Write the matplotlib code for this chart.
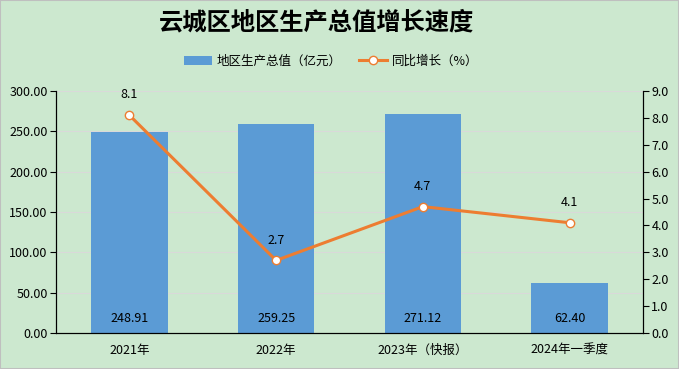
import matplotlib.pyplot as plt
import numpy as np

plt.rcParams['font.family'] = ['Noto Sans CJK SC', 'DejaVu Sans']

categories = ['2021年', '2022年', '2023年（快报）', '2024年一季度']
gdp = [248.91, 259.25, 271.12, 62.40]
growth = [8.1, 2.7, 4.7, 4.1]

bg = '#CCE8CF'
bar_color = '#5B9BD5'
line_color = '#ED7D31'

fig = plt.figure(figsize=(6.79, 3.69), dpi=100, facecolor=bg)
ax1 = fig.add_axes([56 / 679, 1 - 333 / 369, 587 / 679, 242 / 369])
ax1.set_facecolor(bg)
x = np.arange(len(categories))

ax1.bar(x, gdp, width=0.52, color=bar_color, zorder=2, label='地区生产总值（亿元）')
ax1.set_ylim(0, 300)
ax1.set_xlim(-0.5, len(categories) - 0.5)
ax1.set_yticks(np.arange(0, 301, 50))
ax1.set_yticklabels(['%.2f' % v for v in np.arange(0, 301, 50)], fontsize=9)
ax1.set_xticks(x)
ax1.set_xticklabels(categories, fontsize=9)
ax1.tick_params(axis='x', length=0, pad=8)
ax1.tick_params(axis='y', length=4, pad=2)
ax1.grid(axis='y', color='#D9D9D9', linewidth=0.8, zorder=0)
ax1.spines['top'].set_visible(False)
for i, v in enumerate(gdp):
    ax1.text(i, 10, '%.2f' % v, ha='center', va='bottom', fontsize=9, zorder=3)

ax2 = ax1.twinx()
ax2.plot(x, growth, color=line_color, linewidth=2.2, marker='o', markersize=6,
         markerfacecolor='white', markeredgecolor=line_color, markeredgewidth=1,
         zorder=4, label='同比增长（%）')
ax2.set_ylim(0, 9)
ax2.set_yticks(np.arange(0, 9.1, 1))
ax2.set_yticklabels(['%.1f' % v for v in np.arange(0, 9.1, 1)], fontsize=9)
ax2.tick_params(axis='y', length=4, pad=2)
ax2.spines['top'].set_visible(False)
for i, v in enumerate(growth):
    ax2.annotate('%.1f' % v, (i, v), xytext=(0, 10), textcoords='offset points',
                 ha='center', va='bottom', fontsize=9)

fig.text(316 / 679, 1 - 22 / 369, '云城区地区生产总值增长速度', ha='center', va='center',
         fontsize=17.5, fontweight='bold')

h1, l1 = ax1.get_legend_handles_labels()
h2, l2 = ax2.get_legend_handles_labels()
fig.legend(h1 + h2, l1 + l2, loc='center', bbox_to_anchor=(331 / 679, 1 - 61 / 369),
           ncol=2, frameon=False, fontsize=9, handlelength=2.2, columnspacing=1.4,
           handletextpad=0.4)

fig.patches.append(plt.Rectangle((0, 0), 1, 1, transform=fig.transFigure, fill=False,
                                 edgecolor='#BFBFBF', linewidth=1.5))

fig.savefig('out.png', dpi=100, facecolor=bg)
